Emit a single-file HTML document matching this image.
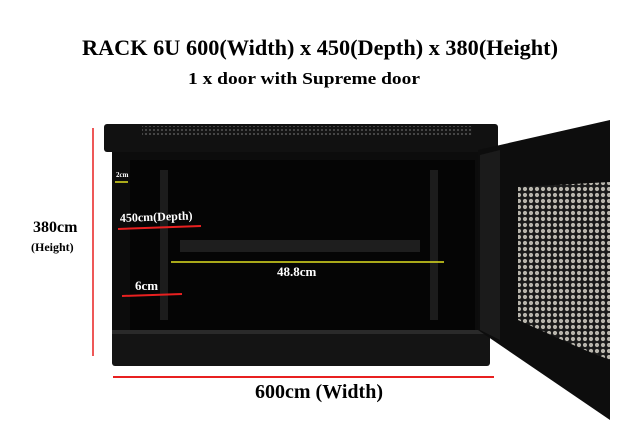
<!DOCTYPE html>
<html><head><style>html,body{margin:0;padding:0;background:#fff}svg{display:block}</style></head>
<body>
<svg width="640" height="440" viewBox="0 0 640 440" xmlns="http://www.w3.org/2000/svg" font-family="Liberation Serif, serif" font-weight="bold">
<defs>
<pattern id="mesh" width="6" height="6" patternUnits="userSpaceOnUse">
<rect width="6" height="6" fill="#1a1a1a"/>
<circle cx="3" cy="3" r="2.1" fill="#b9b6ad"/>
</pattern>
<pattern id="vent" width="4" height="4" patternUnits="userSpaceOnUse">
<rect width="4" height="4" fill="#141414"/>
<circle cx="2" cy="2" r="1" fill="#555"/>
</pattern>
</defs>
<text x="320" y="55" text-anchor="middle" font-size="22" textLength="476" lengthAdjust="spacingAndGlyphs">RACK 6U 600(Width) x 450(Depth) x 380(Height)</text>
<text x="304" y="84" text-anchor="middle" font-size="17" textLength="232" lengthAdjust="spacingAndGlyphs">1 x door with Supreme door</text>

<!-- rack body -->
<rect x="112" y="148" width="378" height="190" fill="#0c0c0c"/>
<rect x="104" y="124" width="394" height="28" rx="3" fill="#111"/>
<rect x="142" y="126" width="330" height="9" fill="url(#vent)"/>
<rect x="130" y="160" width="345" height="170" fill="#050505"/>
<rect x="160" y="170" width="8" height="150" fill="#1c1c1c"/>
<rect x="430" y="170" width="8" height="150" fill="#1c1c1c"/>
<rect x="180" y="240" width="240" height="12" fill="#1e1e1e"/>
<rect x="112" y="330" width="378" height="36" rx="3" fill="#141414"/>
<rect x="112" y="330" width="378" height="4" fill="#2a2a2a"/>

<!-- door -->
<polygon points="478,150 610,120 610,420 478,330" fill="#0d0d0d"/>
<polygon points="480,155 500,150 500,340 480,330" fill="#1b1b1b"/>
<polygon points="518,187 610,182 610,360 580,348 518,320" fill="url(#mesh)"/>

<!-- measure lines -->
<line x1="93" y1="128" x2="93" y2="356" stroke="#e82020" stroke-width="1.5"/>
<line x1="113" y1="377" x2="494" y2="377" stroke="#e82020" stroke-width="2"/>
<line x1="118" y1="229" x2="201" y2="226" stroke="#e82020" stroke-width="2"/>
<line x1="122" y1="296" x2="182" y2="294" stroke="#e82020" stroke-width="2"/>
<line x1="115" y1="182" x2="128" y2="182" stroke="#e0e020" stroke-width="1.5"/>
<line x1="171" y1="262" x2="444" y2="262" stroke="#e0e020" stroke-width="1.5"/>

<text x="33" y="232" font-size="16">380cm</text>
<text x="31" y="251" font-size="12">(Height)</text>
<text x="116" y="177" font-size="7" fill="#fff">2cm</text>
<text x="120" y="222" font-size="12" fill="#fff" transform="rotate(-2 120 222)">450cm(Depth)</text>
<text x="135" y="290" font-size="13" fill="#fff">6cm</text>
<text x="277" y="276" font-size="13" fill="#fff">48.8cm</text>
<text x="319" y="398" text-anchor="middle" font-size="20">600cm (Width)</text>
</svg>
</body></html>
